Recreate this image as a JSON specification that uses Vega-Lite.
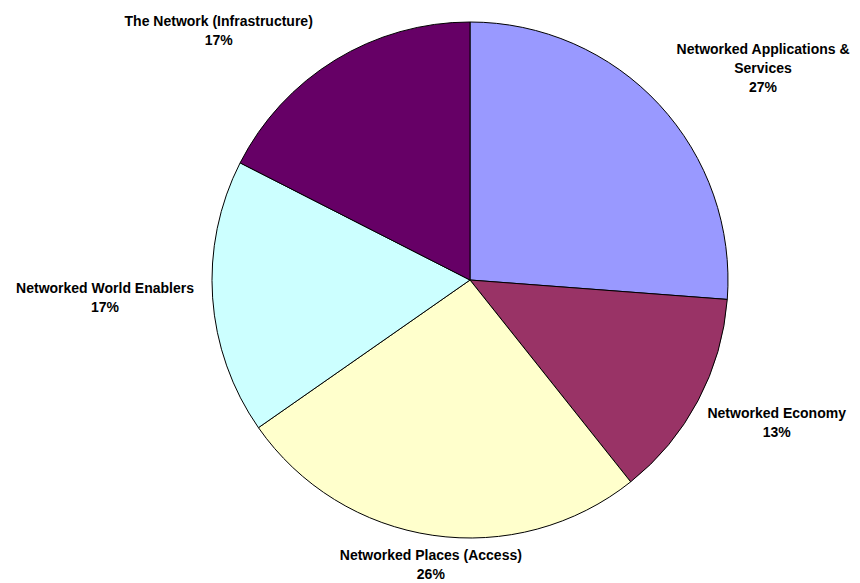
{
  "$schema": "https://vega.github.io/schema/vega-lite/v6.json",
  "width": 516,
  "height": 516,
  "autosize": {"type": "none"},
  "padding": {"left": 212, "top": 22, "right": 132, "bottom": 45},
  "background": "white",
  "config": {"view": {"stroke": null}},
  "data": {
    "values": [
      {"idx": 1, "segment": "Networked Applications & Services", "value": 26.2, "label": "Networked Applications &\nServices\n27%"},
      {"idx": 2, "segment": "Networked Economy", "value": 13.1, "label": "Networked Economy\n13%"},
      {"idx": 3, "segment": "Networked Places (Access)", "value": 26.0, "label": "Networked Places (Access)\n26%"},
      {"idx": 4, "segment": "Networked World Enablers", "value": 17.2, "label": "Networked World Enablers\n17%"},
      {"idx": 5, "segment": "The Network (Infrastructure)", "value": 17.5, "label": "The Network (Infrastructure)\n17%"}
    ]
  },
  "encoding": {
    "theta": {"field": "value", "type": "quantitative", "stack": true},
    "order": {"field": "idx", "type": "quantitative"}
  },
  "layer": [
    {
      "mark": {"type": "arc", "stroke": "black", "strokeWidth": 1},
      "encoding": {
        "color": {
          "field": "segment",
          "type": "nominal",
          "sort": null,
          "scale": {
            "domain": ["Networked Applications & Services", "Networked Economy", "Networked Places (Access)", "Networked World Enablers", "The Network (Infrastructure)"],
            "range": ["#9999FF", "#993366", "#FFFFCC", "#CCFFFF", "#660066"]
          },
          "legend": null
        }
      }
    },
    {
      "mark": {
        "type": "text",
        "radius": 272,
        "font": "Liberation Sans",
        "fontWeight": "bold",
        "fontSize": 14,
        "lineBreak": "\n",
        "lineHeight": 19,
        "align": "center",
        "color": "black",
        "baseline": {"expr": "cos(scale('theta', (datum.value_start + datum.value_end) / 2)) > 0.3 ? 'bottom' : (cos(scale('theta', (datum.value_start + datum.value_end) / 2)) < -0.3 ? 'top' : 'middle')"},
        "dy": {"expr": "cos(scale('theta', (datum.value_start + datum.value_end) / 2)) > 0.3 ? -(length(split(datum.label, '\\n')) - 1) * 19 : (cos(scale('theta', (datum.value_start + datum.value_end) / 2)) < -0.3 ? 0 : -(length(split(datum.label, '\\n')) - 1) * 9.5)"},
        "dx": {"expr": "sin(scale('theta', (datum.value_start + datum.value_end) / 2)) > 0.3 ? length(split(datum.label, '\\n')[0]) * 3.9 : (sin(scale('theta', (datum.value_start + datum.value_end) / 2)) < -0.3 ? -length(split(datum.label, '\\n')[0]) * 3.9 : 0)"}
      },
      "encoding": {
        "text": {"field": "label", "type": "nominal"}
      }
    }
  ]
}
